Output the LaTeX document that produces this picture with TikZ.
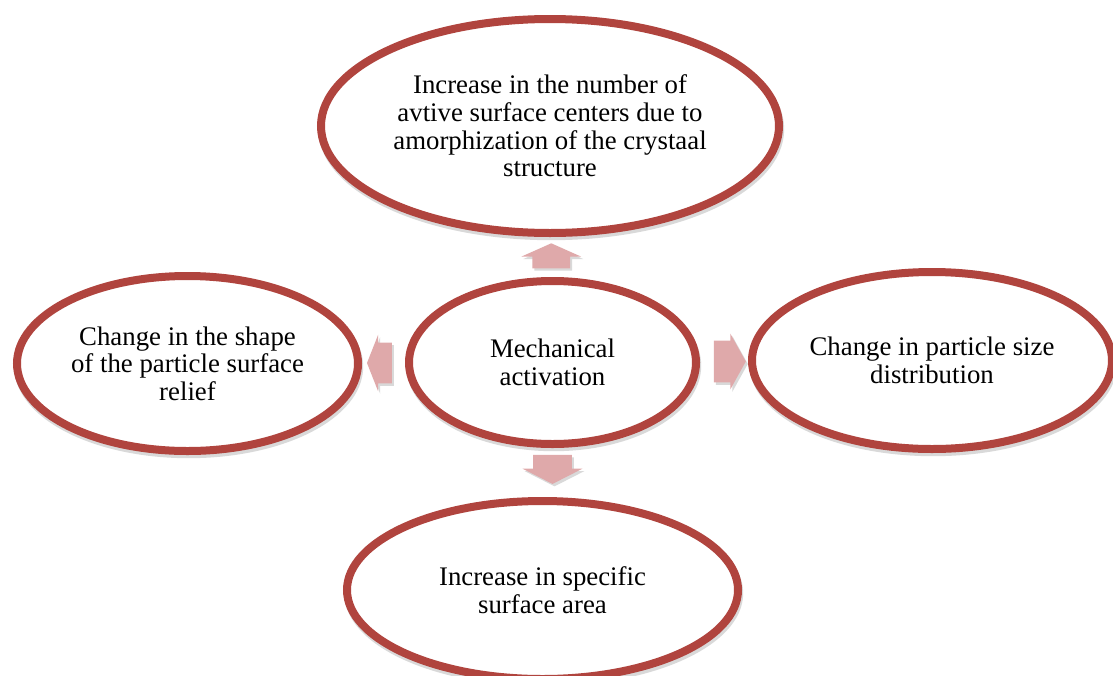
\documentclass[tikz,border=0pt]{standalone}
\usepackage{fontspec}
\setmainfont{Liberation Serif}
\usepackage{xcolor}
\usetikzlibrary{positioning,shapes.geometric,shapes.arrows,calc,shadows}

\definecolor{ringred}{HTML}{B0443E}
\definecolor{arrowpink}{HTML}{DFA9AA}

\begin{document}
\begin{tikzpicture}[
    x=0.5pt, y=-0.5pt,
    bubble/.style={ellipse, draw=ringred, line width=4pt, fill=white, inner sep=0pt, align=center,
        font=\fontsize{13.4}{13.8}\selectfont,
        drop shadow={draw=black, fill=black, line width=4pt, opacity=0.15, shadow xshift=0.6pt, shadow yshift=-1.6pt}},
    blockarrow/.style={single arrow, draw=none, fill=arrowpink, inner xsep=0pt,
        drop shadow={opacity=0.3, shadow xshift=1pt, shadow yshift=-1.2pt}}
]
\useasboundingbox (0,0) rectangle (1113,675);

% Centre
\node[bubble, minimum width=143.5pt, minimum height=81.5pt] (act) at (552.5,362.5) {Mechanical\\activation};

% Top
\node[bubble, minimum width=229pt, minimum height=107pt] (top) at (550,126)
    {Increase in the number of\\avtive surface centers due to\\amorphization of the crystaal\\structure};

% Left
\node[bubble, minimum width=170.5pt, minimum height=87.5pt] (left) at (187.5,363.5)
    {Change in the shape\\of the particle surface\\relief};

% Right
\node[bubble, minimum width=180pt, minimum height=88.5pt] (right) at (932,360.5)
    {Change in particle size\\distribution};

% Bottom
\node[bubble, minimum width=195.5pt, minimum height=89pt] (bottom) at (542.5,590)
    {Increase in specific\\surface area};

% Block arrows
\node[blockarrow, rotate=90, minimum height=12.5pt, inner ysep=9.25pt,
      single arrow head extend=5.5pt, single arrow tip angle=132]
    (up) at ($(act.north)!0.5!(top.south)+(0,3)$) {};
\node[blockarrow, rotate=180, minimum height=12.5pt, inner ysep=10pt,
      single arrow head extend=4pt, single arrow tip angle=137]
    (toleft) at ($(act.west)!0.5!(left.east)$) {};
\node[blockarrow, minimum height=16pt, inner ysep=10.25pt,
      single arrow head extend=3.5pt, single arrow tip angle=122]
    (toright) at ($(act.east)!0.5!(right.west)$) {};
\node[blockarrow, rotate=-90, minimum height=14.5pt, inner ysep=9.5pt,
      single arrow head extend=5.25pt, single arrow tip angle=126]
    (down) at ($(act.south)!0.5!(bottom.north)+(5,-8)$) {};

\end{tikzpicture}
\end{document}
